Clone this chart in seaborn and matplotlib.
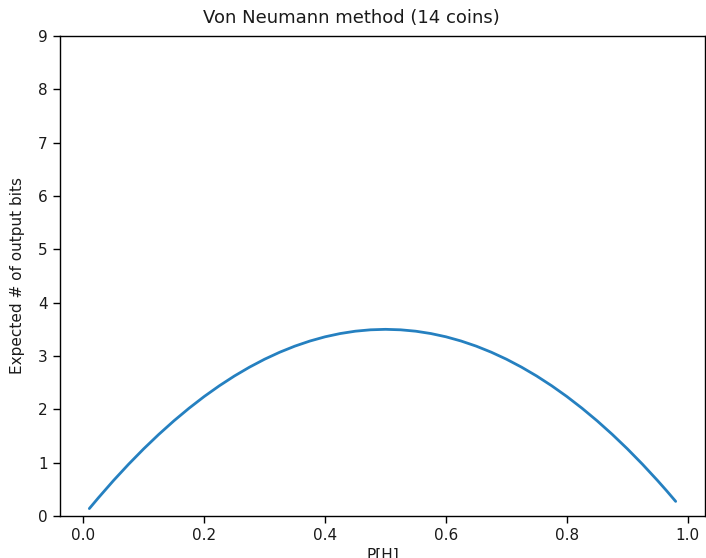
import matplotlib
matplotlib.use("Agg")
import matplotlib.pyplot as plt
import seaborn as sns
import pandas as pd

p_heads = [0.01, 0.025, 0.05, 0.075, 0.10, 0.125, 0.15, 0.175, 0.20, 0.225, 0.25,
           0.275, 0.30, 0.325, 0.35, 0.375, 0.40, 0.425, 0.45, 0.475, 0.50,
           0.525, 0.55, 0.575, 0.60, 0.625, 0.65, 0.675, 0.70, 0.725, 0.75,
           0.775, 0.80, 0.825, 0.85, 0.875, 0.90, 0.925, 0.95, 0.965, 0.98]
expected_bits = [0.139, 0.341, 0.665, 0.971, 1.26, 1.531, 1.785, 2.021, 2.24, 2.441, 2.625,
                 2.791, 2.94, 3.071, 3.185, 3.281, 3.36, 3.421, 3.465, 3.491, 3.5,
                 3.491, 3.465, 3.421, 3.36, 3.281, 3.185, 3.071, 2.94, 2.791, 2.625,
                 2.441, 2.24, 2.021, 1.785, 1.531, 1.26, 0.971, 0.665, 0.473, 0.274]

sns.set_theme(style="ticks", rc={
    "axes.edgecolor": "black", "text.color": "#1a1a1a", "axes.labelcolor": "#1a1a1a",
    "xtick.color": "black", "ytick.color": "black", "axes.linewidth": 1.0,
    "xtick.major.width": 1.0, "ytick.major.width": 1.0,
    "xtick.major.size": 5, "ytick.major.size": 5,
    "xtick.labelcolor": "#1a1a1a", "ytick.labelcolor": "#1a1a1a",
})
plt.rcParams["font.family"] = ["DejaVu Sans"]

df = pd.DataFrame({"p": p_heads, "bits": expected_bits})

fig = plt.figure(figsize=(7.06, 5.58), dpi=100)
ax = fig.add_axes([60 / 706, 42 / 558, 645 / 706, 480 / 558])
sns.lineplot(data=df, x="p", y="bits", ax=ax, color="#2580c0", linewidth=2)
ax.set_ylim(0, 9)
ax.set_xlim(-0.0385, 1.0285)
ax.set_xticks([0.0, 0.2, 0.4, 0.6, 0.8, 1.0])
ax.set_yticks(range(0, 10))
ax.tick_params(labelsize=11, pad=4)
ax.set_xlabel("P[H]", fontsize=11, labelpad=3)
ax.set_ylabel("Expected # of output bits", fontsize=11, labelpad=9)
fig.suptitle("Von Neumann method (14 coins)", fontsize=13, x=351 / 706, y=1 - 18 / 558, va="center")
fig.savefig("out.png", dpi=100)
